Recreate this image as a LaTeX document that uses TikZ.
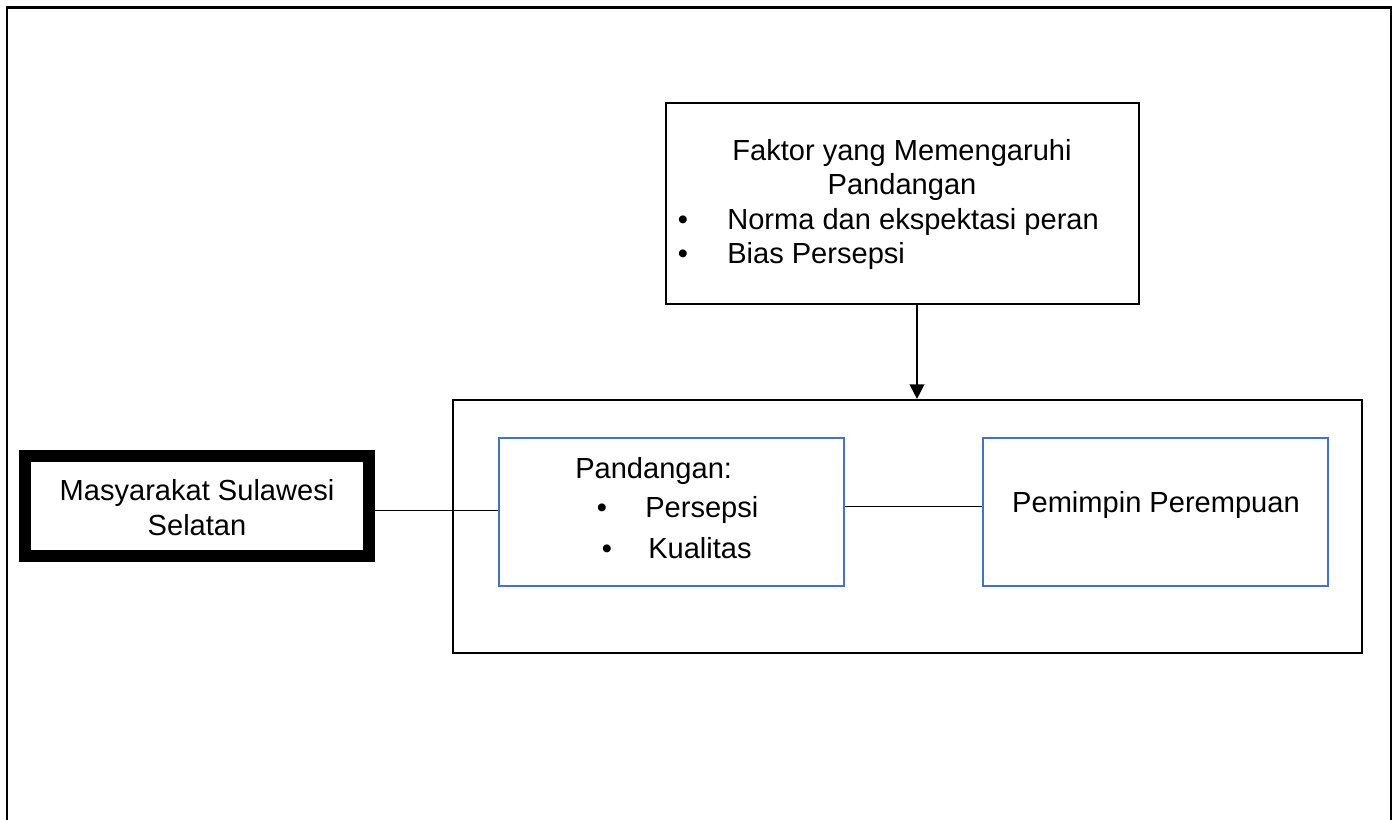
\documentclass[tikz,border=0pt]{standalone}
\usepackage{fontspec}
\setmainfont{Liberation Sans}
\usetikzlibrary{arrows.meta,fit}
\definecolor{boxblue}{HTML}{4472C4}
\begin{document}
\begin{tikzpicture}[x=0.75pt,y=-0.75pt,
  every node/.style={font=\fontsize{21.8}{25}\selectfont},
  frame/.style={draw=black,line width=1.9pt},
  blackbox/.style={draw=black,line width=1.6pt,inner sep=0pt},
  bluebox/.style={draw=boxblue,line width=1.6pt,inner sep=0pt},
  heavybox/.style={draw=black,line width=9pt,inner sep=0pt},
  thinline/.style={draw=black,line width=0.75pt},
  arrowline/.style={draw=black,line width=1.6pt,-{Triangle[length=11pt,width=11pt]}},
  txt/.style={inner sep=0pt,anchor=base},
  txtw/.style={inner sep=0pt,anchor=base west}]
\useasboundingbox (0,0) rectangle (1399,820);
% outer frame (open at bottom)
\draw[frame] (7,830) -- (7,7.5) -- (1391,7.5) -- (1391,830);
% boxes
\node[blackbox,line width=1.9pt,fit={(666,103) (1139,304)}] (fak) {};
\node[blackbox,fit={(453,400) (1362,653)}] (big) {};
\node[heavybox,fit={(25,456) (369,556)}] (mas) {};
\node[bluebox,fit={(499,438) (844,586)}] (pan) {};
\node[bluebox,fit={(983,438) (1328,586)}] (pem) {};
% helper coordinates
\coordinate (ax) at (917,0);
\coordinate (ly1) at (0,510);
\coordinate (ly2) at (0,506);
% connectors
\draw[arrowline] (fak.south -| ax) -- (big.north -| ax);
\draw[thinline] (mas.east |- ly1) -- (pan.west |- ly1);
\draw[thinline] (pan.east |- ly2) -- (pem.west |- ly2);
% texts: Faktor box
\node[txt] (f1) at (902,161) {Faktor yang Memengaruhi};
\node[txt] (f2) at (902,195) {Pandangan};
\node[txt] (fb1) at (683,229) {•};
\node[txtw] (f3) at (727,229) {Norma dan ekspektasi peran};
\node[txt] (fb2) at (683,263) {•};
\node[txtw] (f4) at (727,263) {Bias Persepsi};
% Masyarakat
\node[txt] (m1) at (197,500) {Masyarakat Sulawesi};
\node[txt] (m2) at (197,535) {Selatan};
% Pandangan
\node[txtw] (p1) at (575,478) {Pandangan:};
\node[txt] (pb1) at (602,517) {•};
\node[txtw] (p2) at (645,517) {Persepsi};
\node[txt] (pb2) at (607,558) {•};
\node[txtw] (p3) at (648,558) {Kualitas};
% Pemimpin
\node[txt] (q1) at (1156,512) {Pemimpin Perempuan};
\end{tikzpicture}
\end{document}
